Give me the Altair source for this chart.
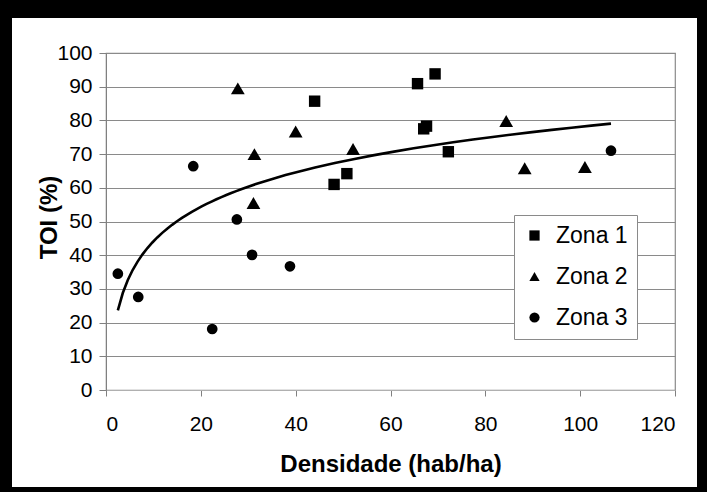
import altair as alt
import pandas as pd

# ---- data ----
zona1_x = [44.0, 65.7, 69.4, 67.0, 67.6, 72.2, 48.1, 50.8]
zona1_y = [85.7, 90.9, 93.8, 77.5, 78.3, 70.7, 61.0, 64.2]
zona2_x = [27.8, 31.3, 31.1, 40.0, 52.1, 84.4, 88.3, 101.0]
zona2_y = [89.5, 70.0, 55.5, 76.7, 71.5, 79.8, 65.8, 66.2]
zona3_x = [2.5, 6.8, 18.4, 22.4, 27.6, 30.8, 38.8, 106.5]
zona3_y = [34.5, 27.6, 66.4, 18.1, 50.6, 40.1, 36.7, 71.0]

zones = ["Zona 1", "Zona 2", "Zona 3"]
x_ticks = [0, 20, 40, 60, 80, 100, 120]
y_ticks = [0, 10, 20, 30, 40, 50, 60, 70, 80, 90, 100]

rows = []
for name, xs, ys in zip(zones, [zona1_x, zona2_x, zona3_x], [zona1_y, zona2_y, zona3_y]):
    for a, b in zip(xs, ys):
        rows.append({"densidade": a, "toi": b, "zona": name})
df = pd.DataFrame(rows)

FONT = "Liberation Sans"
GRID = "#8a8a8a"

x_enc = alt.X("densidade:Q",
              scale=alt.Scale(domain=[0, 120], nice=False, zero=True),
              axis=alt.Axis(values=x_ticks, grid=False, title="Densidade (hab/ha)",
                            labelOverlap=False,
                            tickSize=6, labelPadding=17, labelFontSize=21,
                            titleFontSize=24, titleFontWeight="bold",
                            titleBaseline="alphabetic", titleY=81,
                            domainColor="#b0b0b0", tickColor="#808080"))
y_enc = alt.Y("toi:Q",
              scale=alt.Scale(domain=[0, 100], nice=False),
              axis=alt.Axis(values=y_ticks, grid=True, title="TOI (%)",
                            labelOverlap=False,
                            tickSize=7, labelPadding=7, labelFontSize=21,
                            titleFontSize=24, titleFontWeight="bold",
                            titleBaseline="alphabetic", titleX=-50, titleY=164,
                            titleAngle=270,
                            gridColor=GRID, gridWidth=1.2,
                            domainColor="#808080", tickColor="#808080"))

shape_enc = alt.Shape("zona:N",
                      scale=alt.Scale(domain=zones, range=["square", "triangle-up", "circle"]),
                      legend=alt.Legend(title=None, orient="none", legendX=408, legendY=162,
                                        strokeColor="#8a8a8a", fillColor="white",
                                        padding=9, rowPadding=17,
                                        labelFontSize=23, labelFont=FONT, labelOffset=10,
                                        symbolSize=105, symbolFillColor="black",
                                        symbolStrokeColor="black", symbolStrokeWidth=0))

marker_sizes = {"Zona 1": 130, "Zona 2": 190, "Zona 3": 115}
point_layers = []
for name in zones:
    point_layers.append(
        alt.Chart(df).transform_filter(alt.datum.zona == name)
        .mark_point(filled=True, opacity=1, color="black", size=marker_sizes[name])
        .encode(x=x_enc, y=y_enc, shape=shape_enc)
    )

trend = alt.Chart(df).transform_regression(
    "densidade", "toi", method="log"
).mark_line(color="black", strokeWidth=2.6).encode(x=x_enc, y=y_enc)

one = pd.DataFrame({"k": [0]})
def band(x1, x2, y1, y2):
    return alt.Chart(one).mark_rect(color="black").encode(
        x=alt.value(x1), x2=alt.value(x2), y=alt.value(y1), y2=alt.value(y2))

frame = (band(-106, 601, -53, -35) + band(-106, -94, -53, 439) +
         band(591, 601, -53, 439) + band(-106, 601, 434, 439))

chart = alt.layer(*point_layers, trend, frame).properties(
    width=569, height=337,
    padding={"left": 106, "top": 53, "right": 32, "bottom": 102},
    autosize=alt.AutoSizeParams(type="none"),
    background="white",
).configure_view(stroke="#8a8a8a", strokeWidth=1.2).configure_axis(
    labelFont=FONT, titleFont=FONT, labelColor="black", titleColor="black"
)

chart.save("out.html", embed_options={"renderer": "svg", "actions": False})
